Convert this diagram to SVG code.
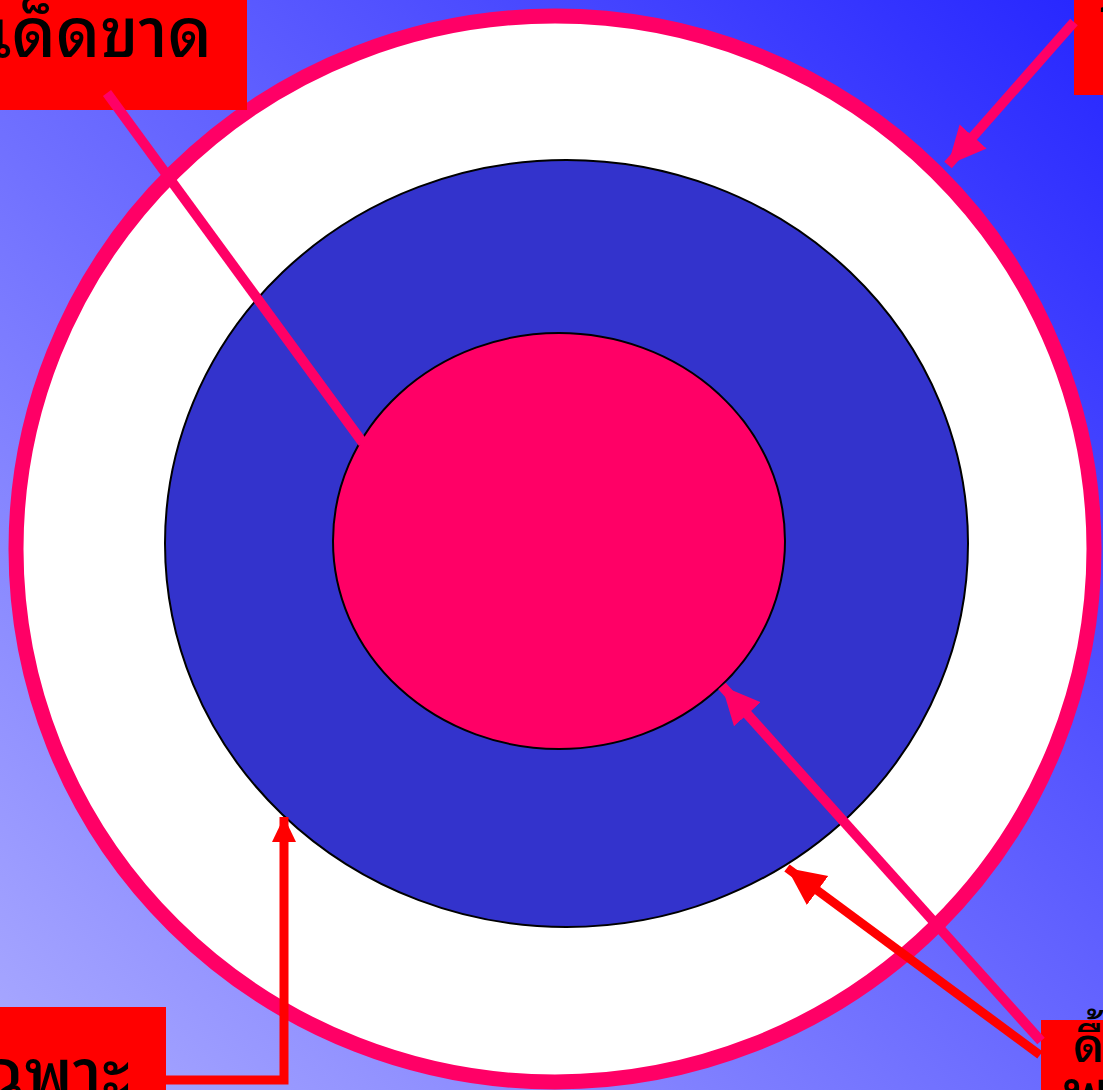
<svg xmlns="http://www.w3.org/2000/svg" width="1103" height="1090" viewBox="0 0 1103 1090">
<defs>
<linearGradient id="bg" x1="1" y1="0" x2="0" y2="1">
<stop offset="0" stop-color="#2626ff"/>
<stop offset="1" stop-color="#aaaaff"/>
</linearGradient>
<marker id="ahPink" markerUnits="userSpaceOnUse" markerWidth="40" markerHeight="40" viewBox="0 0 40 40" refX="38" refY="20" orient="auto">
<path d="M0,2 L38,20 L0,38 z" fill="#ff0066"/>
</marker>
<marker id="ahRed" markerUnits="userSpaceOnUse" markerWidth="40" markerHeight="40" viewBox="0 0 40 40" refX="38" refY="20" orient="auto">
<path d="M0,2 L38,20 L0,38 z" fill="#ff0000"/>
</marker>
<marker id="ahRedSm" markerUnits="userSpaceOnUse" markerWidth="26" markerHeight="26" viewBox="0 0 26 26" refX="25" refY="13" orient="auto">
<path d="M0,1 L25,13 L0,25 z" fill="#ff0000"/>
</marker>
</defs>
<style>
.lbl{fill:#ff0000}
.t{font-family:"Noto Sans Thai Looped","Loma","Garuda","Noto Serif Thai","Noto Sans Thai","DejaVu Sans",sans-serif;font-size:68px;font-weight:500;fill:#000}
.pink{stroke:#ff0066;stroke-width:10;fill:none}
.red{stroke:#ff0000;stroke-width:9;fill:none}
</style>
<rect width="1103" height="1090" fill="url(#bg)"/>
<g id="outer">
<ellipse cx="555" cy="549" rx="539" ry="533" fill="#fff" stroke="#ff0066" stroke-width="15"/>
</g>
<g id="middle">
<ellipse cx="566.5" cy="543.5" rx="401.5" ry="383.5" fill="#3333cc" stroke="#000" stroke-width="2"/>
</g>
<g id="inner">
<ellipse cx="559" cy="541" rx="226" ry="208" fill="#ff0066" stroke="#000" stroke-width="2"/>
</g>
<g id="label-top-left">
<rect class="lbl" x="-10" y="-10" width="257" height="120"/>
<text class="t" x="212" y="57" text-anchor="end">เด็ดขาด</text>
</g>
<g id="label-top-right">
<rect class="lbl" x="1074" y="-10" width="40" height="105"/>
<text class="t" x="1097" y="12">ชั้น</text>
</g>
<g id="label-bottom-left">
<rect class="lbl" x="-10" y="1007" width="176" height="100"/>
<text class="t" x="130" y="1098" text-anchor="end">เฉพาะ</text>
</g>
<g id="label-bottom-right">
<rect class="lbl" x="1041" y="1020" width="70" height="90"/>
<text class="t"><tspan x="1073" y="1062" font-size="48">ดื้อ</tspan><tspan x="1063" y="1118">พ</tspan></text>
</g>
<g id="connectors">
<line class="pink" x1="107" y1="93" x2="363" y2="443"/>
<line class="pink" x1="1074" y1="22" x2="948" y2="165" marker-end="url(#ahPink)"/>
<line class="pink" x1="1041" y1="1041" x2="722" y2="686" marker-end="url(#ahPink)"/>
<line class="red" x1="1040" y1="1055" x2="787" y2="868" marker-end="url(#ahRed)"/>
<polyline class="red" stroke-width="7" points="166,1080 284,1080 284,817" marker-end="url(#ahRedSm)"/>
</g>
</svg>
